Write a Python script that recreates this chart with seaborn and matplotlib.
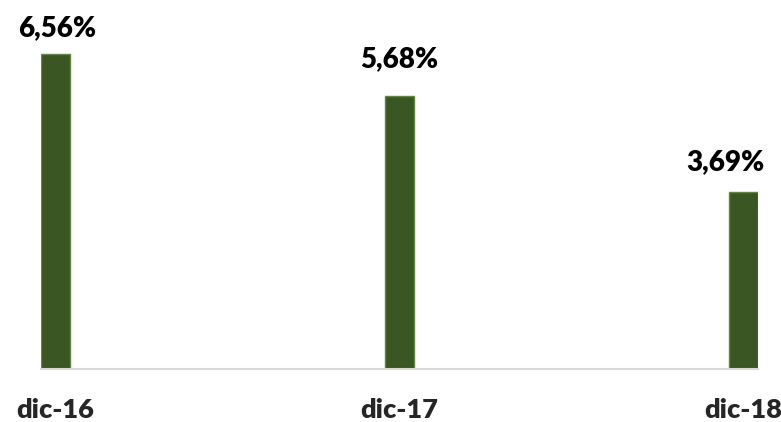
import matplotlib
matplotlib.use("Agg")
import matplotlib.pyplot as plt
import seaborn as sns
import pandas as pd

# datos
periodos = ["dic-16", "dic-17", "dic-18"]
tasas = [6.56, 5.68, 3.69]
etiquetas = ["6,56%", "5,68%", "3,69%"]

# ajuste manual de las etiquetas (pixeles), como en el original
desp_x = [2, 0, -18]
desp_y = [18, 29, 22]

sns.set_theme(style="white")
plt.rcParams["font.family"] = ["Lato", "DejaVu Sans"]

df = pd.DataFrame({"periodo": periodos, "tasa": tasas})

fig = plt.figure(figsize=(7.81, 4.22), dpi=100)
ax = fig.add_axes([41 / 781, 53 / 422, 717 / 781, 369 / 422])

sns.barplot(data=df, x="periodo", y="tasa", color="#3A5723", saturation=1,
            width=0.085, edgecolor="#5E8A3C", linewidth=1, ax=ax)

ax.set_xlim(-0.0425, 2.0425)
ax.set_ylim(0, 369 / 48)

for i, (v, t) in enumerate(zip(tasas, etiquetas)):
    ax.annotate(t, (i, v), xytext=(desp_x[i], desp_y[i]), textcoords="offset pixels",
                ha="center", va="baseline", fontsize=20, fontweight="heavy", color="black")

for s in ["top", "right", "left"]:
    ax.spines[s].set_visible(False)
ax.spines["bottom"].set_color("#D9D9D9")
ax.spines["bottom"].set_linewidth(1.5)

ax.set_yticks([])
ax.set_xlabel("")
ax.set_ylabel("")
ax.tick_params(axis="x", length=0, pad=21, labelsize=19.5)
for lbl in ax.get_xticklabels():
    lbl.set_fontweight("heavy")
    lbl.set_clip_on(False)

fig.savefig("out.png", dpi=100)
